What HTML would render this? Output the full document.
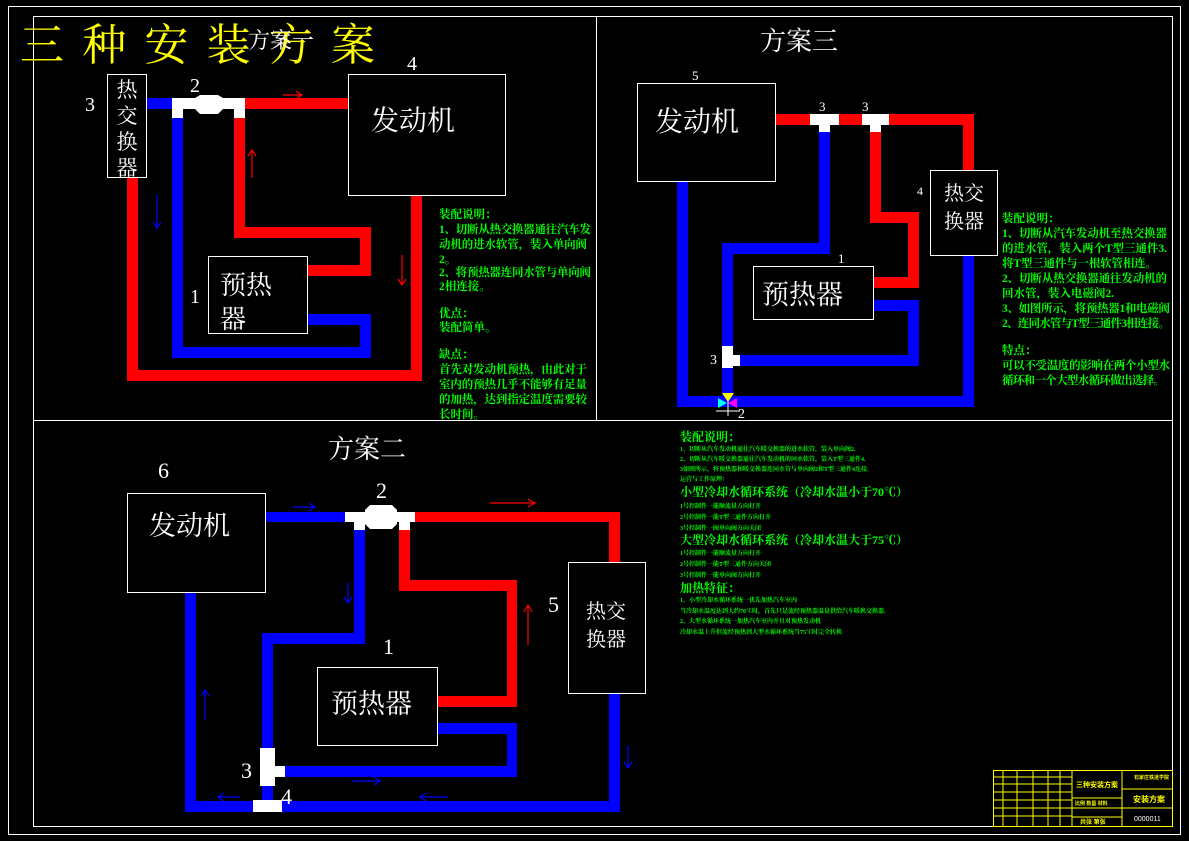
<!DOCTYPE html>
<html><head><meta charset="utf-8"><style>
html,body{margin:0;padding:0;background:#000;}
svg{display:block;font-family:"Liberation Sans","Noto Sans CJK SC",sans-serif;}
.g{fill:#00ff00;font-family:"Liberation Serif","Noto Serif CJK SC",serif;font-weight:bold;}
.w{fill:#fff;font-family:"Liberation Serif","Noto Serif CJK SC",serif;}
.ar{fill:none;stroke-width:1.2;}
</style></head><body>
<svg width="1189" height="841" viewBox="0 0 1189 841">
<rect x="0" y="0" width="1189" height="841" fill="#000"/>
<rect x="8.5" y="6.5" width="1172" height="828" fill="none" stroke="#fff" stroke-width="1"/>
<rect x="33.5" y="16.5" width="1139" height="810" fill="none" stroke="#fff" stroke-width="1"/>
<line x1="596.5" y1="16" x2="596.5" y2="420" stroke="#fff"/>
<line x1="33" y1="420.5" x2="1172" y2="420.5" stroke="#fff"/>

<!-- Title -->
<text x="20" y="60" font-size="44" class="w" style="fill:#ffff00" textLength="355" lengthAdjust="spacing">三种安装方案</text>
<text x="248" y="48" font-size="22" class="w">方案一</text>

<!-- ============ PANEL 1 ============ -->
<g fill="#0000ff">
<rect x="146" y="98" width="27" height="11"/>
<rect x="172" y="116" width="11" height="242"/>
<rect x="172" y="347" width="199" height="11"/>
<rect x="360" y="314" width="11" height="44"/>
<rect x="307" y="314" width="64" height="11"/>
</g>
<g fill="#ff0000">
<rect x="245" y="98" width="103" height="11"/>
<rect x="234" y="116" width="11" height="122"/>
<rect x="234" y="227" width="137" height="11"/>
<rect x="360" y="227" width="11" height="49"/>
<rect x="307" y="265" width="64" height="11"/>
<rect x="127" y="177" width="11" height="204"/>
<rect x="127" y="370" width="295" height="11"/>
<rect x="411" y="195" width="11" height="186"/>
</g>
<g fill="#fff">
<rect x="173" y="98" width="72" height="11"/>
<rect x="172" y="98" width="11" height="20"/>
<rect x="234" y="98" width="11" height="20"/>
<polygon points="195,98 200,95 218,95 223,98 223,109 218,114 200,114 195,109"/>
</g>
<rect x="107.5" y="74.5" width="39" height="103" fill="#000" stroke="#fff"/>
<text x="127" y="97" font-size="21" class="w" text-anchor="middle">热</text>
<text x="127" y="123" font-size="21" class="w" text-anchor="middle">交</text>
<text x="127" y="149" font-size="21" class="w" text-anchor="middle">换</text>
<text x="127" y="175" font-size="21" class="w" text-anchor="middle">器</text>
<text x="85" y="111" font-size="20" class="w">3</text>
<text x="190" y="92" font-size="20" class="w">2</text>
<rect x="348.5" y="74.5" width="157" height="121" fill="#000" stroke="#fff"/>
<text x="371" y="130" font-size="28" class="w">发动机</text>
<text x="407" y="70" font-size="20" class="w">4</text>
<rect x="208.5" y="256.5" width="99" height="77" fill="#000" stroke="#fff"/>
<text x="220" y="294" font-size="26" class="w">预热</text>
<text x="220" y="328" font-size="26" class="w">器</text>
<text x="190" y="303" font-size="20" class="w">1</text>
<g class="ar" stroke="#ff0000">
<path d="M283 95H302M296 91L302 95L296 99"/>
<path d="M252 178V150M248 156L252 150L256 156"/>
<path d="M402 255V285M398 279L402 285L406 279"/>
</g>
<g class="ar" stroke="#0000ff">
<path d="M157 195V228M153 222L157 228L161 222"/>
</g>
<g class="g" font-size="11.5">
<text x="439" y="218">装配说明：</text>
<text x="439" y="233" textLength="152">1、切断从热交换器通往汽车发</text>
<text x="439" y="248" textLength="148">动机的进水软管，装入单向阀</text>
<text x="439" y="263">2。</text>
<text x="439" y="276" textLength="152">2、将预热器连同水管与单向阀</text>
<text x="439" y="290">2相连接。</text>
<text x="439" y="317">优点：</text>
<text x="439" y="331">装配简单。</text>
<text x="439" y="358">缺点：</text>
<text x="439" y="373" textLength="148">首先对发动机预热，由此对于</text>
<text x="439" y="388" textLength="148">室内的预热几乎不能够有足量</text>
<text x="439" y="403" textLength="148">的加热，达到指定温度需要较</text>
<text x="439" y="418">长时间。</text>
</g>

<!-- ============ PANEL 3 ============ -->
<text x="760" y="50" font-size="26" class="w">方案三</text>
<g fill="#ff0000">
<rect x="775" y="114" width="199" height="11"/>
<rect x="963" y="114" width="11" height="56"/>
<rect x="870" y="125" width="11" height="98"/>
<rect x="870" y="212" width="49" height="11"/>
<rect x="908" y="212" width="11" height="76"/>
<rect x="873" y="277" width="46" height="11"/>
</g>
<g fill="#0000ff">
<rect x="819" y="125" width="11" height="129"/>
<rect x="722" y="243" width="108" height="11"/>
<rect x="722" y="243" width="11" height="153"/>
<rect x="733" y="355" width="186" height="11"/>
<rect x="908" y="300" width="11" height="66"/>
<rect x="873" y="300" width="46" height="11"/>
<rect x="677" y="181" width="11" height="226"/>
<rect x="677" y="396" width="297" height="11"/>
<rect x="963" y="255" width="11" height="152"/>
</g>
<g fill="#fff">
<rect x="810" y="114" width="29" height="11"/><rect x="819" y="114" width="11" height="18"/>
<rect x="862" y="114" width="27" height="11"/><rect x="870" y="114" width="11" height="18"/>
<rect x="722" y="346" width="11" height="22"/><rect x="722" y="355" width="18" height="11"/>
</g>
<polygon points="722,393 734,393 728,402" fill="#ffff00"/>
<polygon points="718,398 727,403 718,408" fill="#00ffff"/>
<polygon points="737,398 728,403 737,408" fill="#ff00ff"/>
<line x1="728" y1="400" x2="728" y2="416" stroke="#fff"/>
<line x1="716" y1="411" x2="740" y2="411" stroke="#fff"/>
<text x="738" y="418" font-size="14" class="w">2</text>
<text x="710" y="364" font-size="14" class="w">3</text>
<rect x="637.5" y="83.5" width="138" height="98" fill="#000" stroke="#fff"/>
<text x="655" y="131" font-size="28" class="w">发动机</text>
<text x="692" y="80" font-size="13" class="w">5</text>
<text x="819" y="111" font-size="13" class="w">3</text>
<text x="862" y="111" font-size="13" class="w">3</text>
<rect x="930.5" y="170.5" width="67" height="85" fill="#000" stroke="#fff"/>
<text x="964" y="200" font-size="20" class="w" text-anchor="middle">热交</text>
<text x="964" y="228" font-size="20" class="w" text-anchor="middle">换器</text>
<text x="917" y="195" font-size="12" class="w">4</text>
<rect x="753.5" y="266.5" width="120" height="53" fill="#000" stroke="#fff"/>
<text x="762" y="304" font-size="27" class="w">预热器</text>
<text x="838" y="263" font-size="13" class="w">1</text>
<g class="g" font-size="11.5">
<text x="1002" y="222">装配说明：</text>
<text x="1002" y="237" textLength="165">1、切断从汽车发动机至热交换器</text>
<text x="1002" y="252" textLength="165">的进水管，装入两个T型三通件3.</text>
<text x="1002" y="267" textLength="155">将T型三通件与一根软管相连。</text>
<text x="1002" y="282" textLength="165">2、切断从热交换器通往发动机的</text>
<text x="1002" y="297">回水管，装入电磁阀2.</text>
<text x="1002" y="312" textLength="168">3、如图所示，将预热器1和电磁阀</text>
<text x="1002" y="327" textLength="168">2、连同水管与T型三通件3相连接。</text>
<text x="1002" y="354">特点：</text>
<text x="1002" y="369" textLength="168">可以不受温度的影响在两个小型水</text>
<text x="1002" y="384" textLength="163">循环和一个大型水循环做出选择。</text>
</g>

<!-- ============ PANEL 2 ============ -->
<text x="328" y="458" font-size="26" class="w">方案二</text>
<g fill="#0000ff">
<rect x="265" y="512" width="82" height="10"/>
<rect x="354" y="522" width="11" height="122"/>
<rect x="262" y="633" width="103" height="11"/>
<rect x="262" y="633" width="11" height="116"/>
<rect x="284" y="766" width="233" height="11"/>
<rect x="507" y="723" width="10" height="54"/>
<rect x="437" y="723" width="80" height="11"/>
<rect x="185" y="592" width="11" height="220"/>
<rect x="185" y="801" width="435" height="11"/>
<rect x="609" y="693" width="11" height="119"/>
<rect x="262" y="785" width="11" height="16"/>
</g>
<g fill="#ff0000">
<rect x="415" y="512" width="205" height="10"/>
<rect x="609" y="512" width="11" height="50"/>
<rect x="399" y="522" width="11" height="69"/>
<rect x="399" y="580" width="118" height="11"/>
<rect x="507" y="580" width="10" height="127"/>
<rect x="437" y="696" width="80" height="11"/>
</g>
<g fill="#fff">
<rect x="345" y="512" width="70" height="10"/>
<rect x="354" y="512" width="11" height="18"/>
<rect x="399" y="512" width="11" height="18"/>
<polygon points="365,510 370,505 392,505 397,510 397,524 392,529 370,529 365,524"/>
<rect x="260" y="748" width="15" height="38"/>
<rect x="260" y="766" width="25" height="11"/>
<rect x="253" y="800" width="29" height="12"/>
</g>
<rect x="127.5" y="493.5" width="138" height="99" fill="#000" stroke="#fff"/>
<text x="149" y="535" font-size="27" class="w">发动机</text>
<text x="158" y="478" font-size="22" class="w">6</text>
<text x="376" y="498" font-size="22" class="w">2</text>
<rect x="568.5" y="562.5" width="77" height="131" fill="#000" stroke="#fff"/>
<text x="606" y="618" font-size="20" class="w" text-anchor="middle">热交</text>
<text x="606" y="646" font-size="20" class="w" text-anchor="middle">换器</text>
<text x="548" y="612" font-size="22" class="w">5</text>
<rect x="317.5" y="667.5" width="120" height="78" fill="#000" stroke="#fff"/>
<text x="331" y="713" font-size="27" class="w">预热器</text>
<text x="383" y="654" font-size="22" class="w">1</text>
<text x="241" y="778" font-size="22" class="w">3</text>
<text x="281" y="804" font-size="22" class="w">4</text>
<g class="ar" stroke="#ff0000">
<path d="M490 503H535M528 499L535 503L528 507"/>
<path d="M528 645V605M524 612L528 605L532 612"/>
</g>
<g class="ar" stroke="#0000ff">
<path d="M293 507H315M309 503L315 507L309 511"/>
<path d="M348 583V603M344 597L348 603L352 597"/>
<path d="M205 720V690M201 696L205 690L209 696"/>
<path d="M628 745V768M624 762L628 768L632 762"/>
<path d="M240 797H218M224 793L218 797L224 801"/>
<path d="M352 781H380M374 777L380 781L374 785"/>
<path d="M448 797H420M426 793L420 797L426 801"/>
</g>
<g class="g">
<text x="680" y="441" font-size="12">装配说明：</text>
<g font-size="6"><text x="680" y="451">1、切断从汽车发动机通往汽车暖交换器的进水软管，装入单向阀2.</text>
<text x="680" y="461">2、切断从汽车暖交换器通往汽车发动机的回水软管，装入T型三通件4.</text>
<text x="680" y="471">3如图所示，将预热器和暖交换器连同水管与单向阀2和T型三通件4连接。</text>
<text x="680" y="481">运营与工作原理：</text></g>
<text x="680" y="496" font-size="12">小型冷却水循环系统（冷却水温小于70℃）</text>
<g font-size="6"><text x="680" y="508">1号控制件一能顺流量方向打开</text>
<text x="680" y="519">2号控制件一能T型三通件方向打开</text>
<text x="680" y="530">3号控制件一阀单向阀方向关闭</text></g>
<text x="680" y="544" font-size="12">大型冷却水循环系统（冷却水温大于75℃）</text>
<g font-size="6"><text x="680" y="555">1号控制件一能顺流量方向打开</text>
<text x="680" y="566">2号控制件一能T型三通件方向关闭</text>
<text x="680" y="577">3号控制件一能单向阀方向打开</text></g>
<text x="680" y="592" font-size="12">加热特征：</text>
<g font-size="6"><text x="680" y="602">1、小型冷却水循环系统一优先加热汽车室内</text>
<text x="680" y="613">当冷却水温度达到大约70℃时，首先只是流经预热器温量供给汽车暖换交换器。</text>
<text x="680" y="623">2、大型水循环系统一加热汽车室内并且对预热发动机</text>
<text x="680" y="634">冷却水温上升但流经预热到大型水循环系统当75℃时完全转换</text></g>
</g>

<!-- Title block -->
<g stroke="#ffff00" fill="none" stroke-width="1">
<rect x="993.5" y="770.5" width="179" height="56"/>
<line x1="1072" y1="770" x2="1072" y2="826"/>
<line x1="1122" y1="770" x2="1122" y2="826"/>
<line x1="993" y1="777" x2="1072" y2="777"/>
<line x1="993" y1="784" x2="1072" y2="784"/>
<line x1="993" y1="792" x2="1072" y2="792"/>
<line x1="993" y1="800" x2="1072" y2="800"/>
<line x1="993" y1="808" x2="1072" y2="808"/>
<line x1="993" y1="816" x2="1072" y2="816"/>
<line x1="1003" y1="770" x2="1003" y2="826"/>
<line x1="1017" y1="770" x2="1017" y2="826"/>
<line x1="1033" y1="770" x2="1033" y2="826"/>
<line x1="1048" y1="770" x2="1048" y2="826"/>
<line x1="1060" y1="770" x2="1060" y2="826"/>
<line x1="1072" y1="798" x2="1122" y2="798"/>
<line x1="1072" y1="808" x2="1122" y2="808"/>
<line x1="1072" y1="817" x2="1122" y2="817"/>
<line x1="1122" y1="789" x2="1172" y2="789"/>
<line x1="1122" y1="808" x2="1172" y2="808"/>
</g>
<g fill="#ffff00" font-size="7" font-weight="bold">
<text x="1076" y="787">三种安装方案</text>
<text x="1134" y="779" font-size="5">石家庄铁道学院</text>
<text x="1133" y="802" font-size="8">安装方案</text>
<text x="1075" y="805" font-size="5">比例 数量 材料</text>
<text x="1080" y="824" font-size="6">共张 第张</text>
</g>
<text x="1134" y="821" font-size="7" fill="#fff">0000011</text>
</svg>
</body></html>
